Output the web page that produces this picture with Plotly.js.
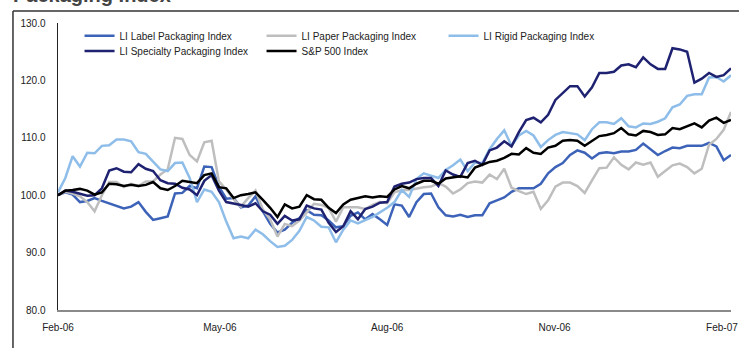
<!DOCTYPE html>
<html>
<head>
<meta charset="utf-8">
<script src="https://cdn.plot.ly/plotly-3.0.1.min.js"></script>
<style>html,body{margin:0;padding:0;background:#fff;}#chart{width:739px;height:348px;}</style>
</head>
<body>
<div id="chart"></div>
<script>
// Sampling positions: 93 evenly spaced samples from 1 Feb 2006 to 6 Feb 2007
const startDate = '2006-02-01';
const endDate = '2007-02-06';
const sampleCount = 93;

const seriesNames = ['LI Label Packaging Index','LI Paper Packaging Index','LI Rigid Packaging Index','LI Specialty Packaging Index','S&P 500 Index'];
const tickVals = ['2006-02-01','2006-05-01','2006-08-01','2006-11-01','2007-02-01'];
const tickText = ['Feb-06','May-06','Aug-06','Nov-06','Feb-07'];

const labelIdx = [100.0,100.5,100.1,98.8,99.0,99.5,99.0,98.6,98.2,97.7,98.0,98.8,97.1,95.7,96.0,96.3,100.3,100.4,101.6,101.2,
  105.0,104.9,101.5,99.4,99.5,97.9,98.2,99.8,97.2,95.0,93.5,94.0,95.2,96.0,97.4,96.6,96.5,95.6,94.4,94.6,
  96.4,97.0,95.8,96.7,95.8,94.8,98.4,98.2,96.2,98.8,100.2,100.3,97.9,96.5,96.3,96.6,96.2,96.5,96.5,98.6,
  99.1,99.6,100.6,101.2,101.2,101.2,102.0,103.8,104.9,105.6,107.0,107.8,107.4,106.4,107.3,107.5,107.3,107.6,107.6,107.9,
  109.0,108.0,107.0,107.7,108.3,108.2,108.6,108.6,108.6,109.1,108.5,106.1,107.0];

const paperIdx = [100.0,100.6,100.3,99.8,98.8,97.2,100.0,102.3,102.3,101.4,102.0,101.6,102.4,102.4,103.6,104.5,110.0,109.8,107.0,105.9,
  109.2,109.5,102.4,101.0,99.3,98.0,99.5,100.8,97.5,95.8,92.8,95.0,94.6,95.6,97.0,98.5,98.3,97.8,95.4,97.9,
  97.9,97.9,97.6,98.3,98.8,98.6,100.5,100.9,100.9,101.2,101.4,101.5,102.1,101.5,100.3,101.0,102.1,102.4,102.2,103.6,
  102.8,104.6,101.3,100.7,100.2,100.6,97.6,99.1,101.5,102.2,102.2,101.6,100.4,102.6,104.7,104.8,106.6,105.3,104.5,105.7,
  105.3,105.7,103.2,104.2,105.2,105.5,104.9,103.8,104.6,108.8,109.8,111.4,114.5];

const rigidIdx = [100.5,103.0,106.8,105.0,107.4,107.3,108.6,108.7,109.7,109.7,109.4,107.5,107.2,105.8,104.5,104.2,105.6,105.7,103.0,98.8,
  101.0,100.6,98.8,95.4,92.5,92.8,92.5,94.0,93.2,92.0,91.0,91.2,92.2,93.8,96.2,95.6,94.5,94.4,91.8,94.0,
  95.6,95.1,95.6,96.2,97.0,97.8,98.8,100.9,99.7,102.8,103.8,103.4,103.0,104.4,105.2,106.2,104.2,105.7,105.6,108.0,
  109.8,111.3,108.6,110.4,111.2,110.4,108.4,109.6,110.5,111.0,110.8,110.6,109.6,111.5,112.7,112.7,112.4,113.4,112.0,111.8,
  112.5,112.4,112.8,113.4,115.3,115.8,117.3,117.6,117.6,120.5,120.6,119.8,120.9];

const specialtyIdx = [100.0,100.8,100.6,100.2,99.9,100.0,101.2,104.3,104.7,104.1,104.0,105.4,104.6,104.2,102.6,102.1,102.0,101.3,101.0,100.0,
  102.5,103.5,100.8,98.8,98.6,98.3,98.0,98.6,97.2,96.6,95.0,96.4,95.6,95.8,98.2,97.7,97.5,95.2,93.6,94.6,
  97.2,95.8,97.6,98.0,98.7,98.8,101.5,102.0,102.2,102.8,103.0,103.0,101.6,104.3,103.6,103.2,105.6,106.0,105.3,107.8,
  108.3,109.4,108.5,111.0,113.1,113.5,112.7,114.0,116.6,117.8,119.0,119.0,117.2,118.8,121.3,121.3,121.5,122.6,122.8,122.3,
  124.0,122.8,122.0,122.0,125.6,125.4,125.0,119.6,120.3,121.3,120.6,120.9,122.1];

const spxIdx = [100.0,100.8,100.9,101.1,100.8,100.1,100.5,102.0,101.9,101.6,101.8,101.6,101.8,102.3,101.2,100.9,101.6,102.5,102.3,102.1,
  103.5,103.8,101.4,101.2,99.5,100.0,100.2,100.5,99.2,97.8,96.2,98.4,97.7,98.0,100.0,99.3,99.2,97.8,96.9,98.4,
  99.2,99.5,99.8,99.6,99.8,99.7,101.0,101.6,101.2,102.0,102.5,102.5,102.0,102.9,103.1,103.3,103.1,104.8,105.3,105.8,
  106.0,106.5,107.2,107.1,108.2,107.4,107.2,108.3,108.6,109.5,109.6,109.5,108.6,109.4,110.3,110.5,110.8,111.7,110.6,110.4,
  111.2,111.0,110.5,110.6,111.7,111.5,112.0,112.5,111.8,113.0,113.5,112.6,113.1];

const seriesColors = ['#3D63B8','#BEBEBE','#8EBDE9','#1E2271','#000000'];
const legendRow = ['legend','legend','legend','legend2','legend2'];

const dates = [];
{
  const t0 = Date.parse(startDate + 'T00:00:00Z');
  const t1 = Date.parse(endDate + 'T00:00:00Z');
  for (let i = 0; i < sampleCount; i++) {
    const t = t0 + (t1 - t0) * i / (sampleCount - 1);
    dates.push(new Date(t).toISOString().slice(0, 19).replace('T', ' '));
  }
}

const allSeries = [labelIdx, paperIdx, rigidIdx, specialtyIdx, spxIdx];
const traces = allSeries.map((ys, k) => ({
  type: 'scatter', mode: 'lines', name: seriesNames[k],
  x: dates, y: ys, legend: legendRow[k],
  line: {color: seriesColors[k], width: 2.5},
  hoverinfo: 'skip'
}));

const FAM = 'Liberation Sans, Arial, sans-serif';
const font = {family: FAM, size: 10, color: '#222'};
const legendBase = {
  orientation: 'h', xanchor: 'left', yanchor: 'top',
  entrywidth: 137, entrywidthmode: 'pixels',
  font: {family: FAM, size: 10, color: '#222'},
  bgcolor: 'rgba(0,0,0,0)', borderwidth: 0, itemwidth: 30
};

const layout = {
  width: 739, height: 348,
  margin: {l: 58, r: 8, t: 23, b: 38},
  paper_bgcolor: '#ffffff', plot_bgcolor: '#ffffff',
  font: font,
  showlegend: true,
  legend: Object.assign({}, legendBase, {x: 0.032, y: 1.006}),
  legend2: Object.assign({}, legendBase, {x: 0.032, y: 0.953}),
  xaxis: {
    type: 'date', range: [startDate, endDate],
    tickmode: 'array', tickvals: tickVals, ticktext: tickText,
    showgrid: false, zeroline: false,
    showline: true, linecolor: '#8a8a8a', linewidth: 2,
    ticks: 'outside', ticklen: 7, tickcolor: 'rgba(0,0,0,0)',
    ticklabeloverflow: 'allow',
    tickfont: {family: FAM, size: 10, color: '#222'},
    fixedrange: true
  },
  yaxis: {
    range: [80, 130], dtick: 10, tick0: 80, tickformat: '.1f',
    showgrid: false, zeroline: false,
    showline: true, linecolor: '#222', linewidth: 1.5,
    ticks: 'outside', ticklen: 9, tickcolor: 'rgba(0,0,0,0)',
    tickfont: {family: FAM, size: 10, color: '#222'},
    fixedrange: true
  },
  shapes: [
    {type: 'line', xref: 'paper', yref: 'paper', x0: -0.0669, x1: -0.0669, y0: 1.0418, y1: -0.2, line: {color: '#333', width: 1.5}, layer: 'above'},
    {type: 'line', xref: 'paper', yref: 'paper', x0: -0.0669, x1: 1.05, y0: 1.0418, y1: 1.0418, line: {color: '#333', width: 1.5}, layer: 'above'}
  ],
  annotations: [
    {xref: 'paper', yref: 'paper', x: -0.0698, y: 1.0523, xanchor: 'left', yanchor: 'bottom',
     text: '<b>Packaging Index</b>', showarrow: false,
     font: {family: FAM, size: 20, color: '#444'}}
  ]
};

Plotly.newPlot('chart', traces, layout, {staticPlot: true, displayModeBar: false});
</script>
</body>
</html>
